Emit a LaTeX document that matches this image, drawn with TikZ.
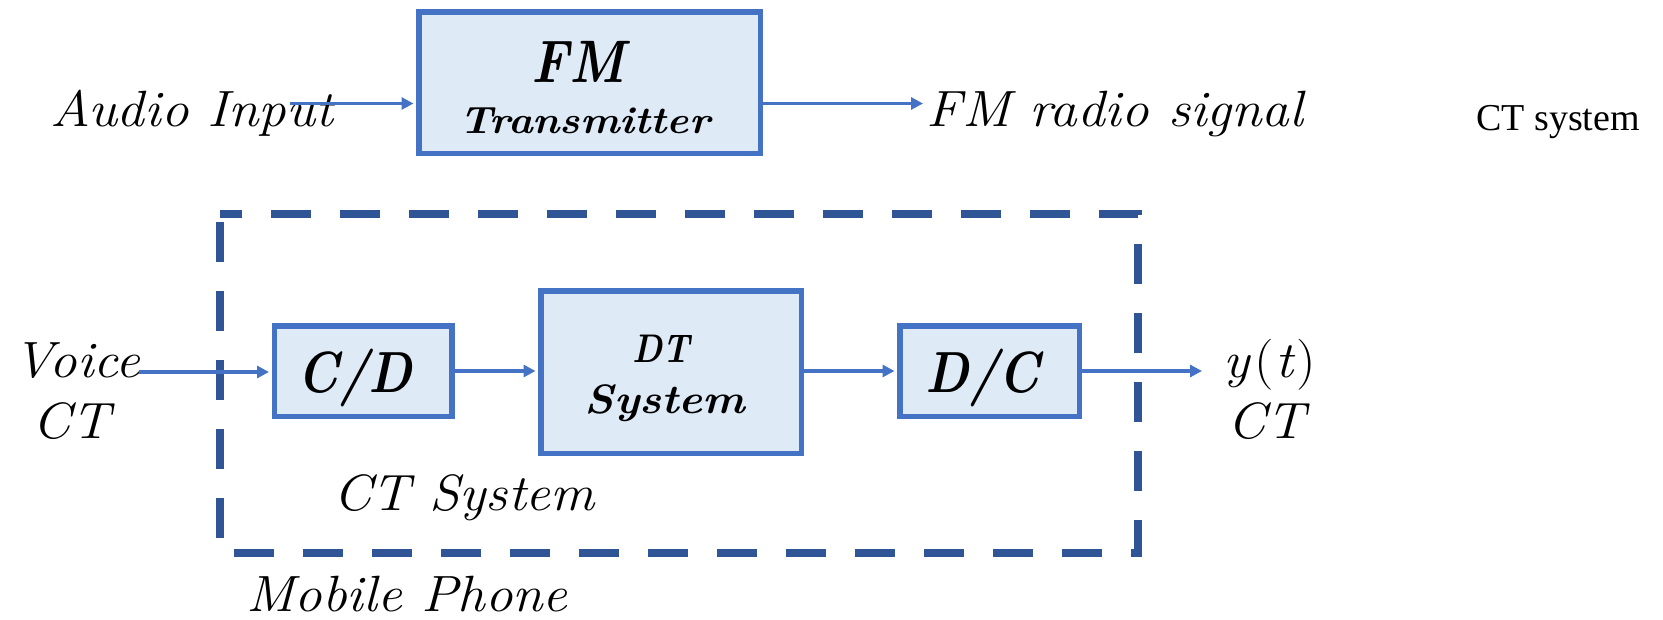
\documentclass[tikz,border=0pt]{standalone}
\usepackage{fontspec}
\setmainfont{Latin Modern Roman}
\newfontfamily\timesf{Liberation Serif}
\newfontfamily\lmital[FakeStretch=1.08]{Latin Modern Roman}
\newfontfamily\lmcond[FakeStretch=0.86]{Latin Modern Roman}
\newfontfamily\lmwide[FakeStretch=1.1]{Latin Modern Roman}
\usetikzlibrary{arrows.meta}
\definecolor{boxblue}{HTML}{4472C4}
\definecolor{boxfill}{HTML}{DEEAF6}
\definecolor{dashblue}{HTML}{2F5597}
\tikzset{
  blk/.style={draw=boxblue, fill=boxfill, line width=5.5pt, inner sep=0pt},
  sig/.style={draw=boxblue, line width=3.5pt, -{Triangle[length=12pt,width=12pt]}},
  lbl/.style={anchor=base, inner sep=0pt, font=\fontsize{51}{60}\selectfont\lmital\itshape},
  btxt/.style={anchor=base, inner sep=0pt},
  grp/.style={draw=dashblue, line width=8.5pt, dash pattern=on 40pt off 29pt, dash phase=61pt}
}
\begin{document}
\begin{tikzpicture}[x=1pt,y=-1pt]
\useasboundingbox (0,0) rectangle (1663,619);

% group
\draw[grp] (220,214) rectangle (1138,553);

% blocks
\node[blk, minimum width=341.5pt, minimum height=141.5pt] (fm) at (589.5,82.5) {};
\node[blk, minimum width=177.5pt, minimum height=90.5pt] (cd) at (363,371) {};
\node[blk, minimum width=260.5pt, minimum height=162.5pt] (dt) at (671,372) {};
\node[blk, minimum width=179.5pt, minimum height=90.5pt] (dc) at (989.5,371) {};

% block texts
\node[btxt, font=\fontsize{60}{70}\selectfont\lmcond\bfseries\itshape] (fmt) at (578,82) {FM};
\node[btxt, font=\fontsize{38}{44}\selectfont\lmwide\bfseries\itshape] (fmt2) at (585,133) {Transmitter};
\node[btxt, font=\fontsize{58}{68}\selectfont\lmcond\bfseries\itshape] (cdt) at (355,392) {C/D};
\node[btxt, font=\fontsize{40}{48}\selectfont\lmcond\bfseries\itshape] (dtt) at (661,362) {DT};
\node[btxt, font=\fontsize{41}{48}\selectfont\lmwide\bfseries\itshape] (dtt2) at (665,413) {System};
\node[btxt, font=\fontsize{58}{68}\selectfont\lmcond\bfseries\itshape] (dct) at (983,392) {D/C};

% labels
\node[lbl] (audio) at (192,126) {Audio Input};
\node[lbl] (fmsig) at (1115,126) {FM radio signal};
\node[btxt, anchor=base west, font=\fontsize{38}{44}\selectfont\timesf] (ctsys) at (1476,130) {CT system};
\node[lbl] (voice) at (77,377) {Voice};
\node[lbl] (voicect) at (71,438) {CT};
\node[lbl] (yt) at (1270,377) {y\kern4pt\upshape(\kern2pt\itshape t\kern3pt\upshape)};
\node[lbl] (ytct) at (1266,438) {CT};
\node[lbl] (ctsystem) at (464,510) {CT System};
\node[lbl] (mobile) at (407,611) {Mobile Phone};

% connectors
\coordinate (ain) at (290,103.5);
\coordinate (fmout) at (923,103.5);
\coordinate (vin) at (139,372);
\coordinate (yout) at (1202,371);
\draw[sig, shorten >=2.5pt] (ain) -- (ain -| fm.west);
\draw[sig] (fm.east |- fmout) -- (fmout);
\draw[sig, shorten >=2.5pt] (vin) -- (vin -| cd.west);
\draw[sig, shorten >=2.5pt] (cd.east) -- (cd.east -| dt.west);
\draw[sig, shorten >=2.5pt] (dt.east |- dc.west) -- (dc.west);
\draw[sig] (dc.east) -- (yout);
\end{tikzpicture}
\end{document}
